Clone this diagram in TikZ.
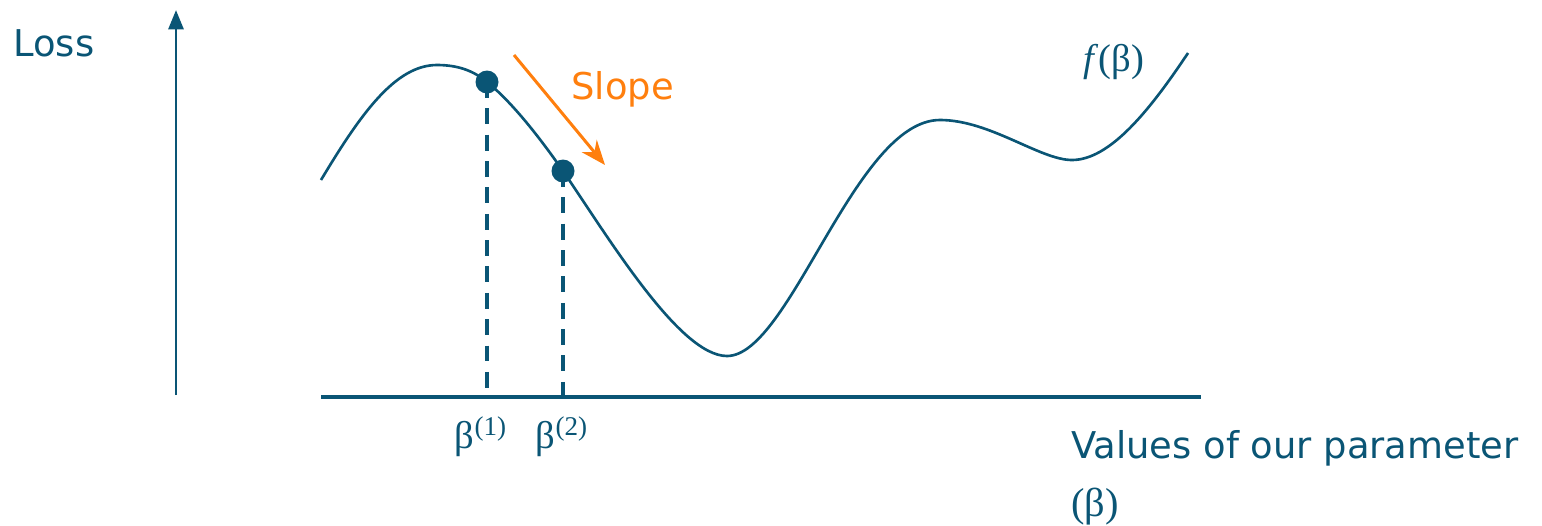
\documentclass[tikz,border=0pt]{standalone}
\usepackage{fontspec}
\setmainfont{DejaVu Sans}
\newfontfamily\greekfont{Liberation Serif}
\usetikzlibrary{arrows.meta}
\definecolor{lossblue}{HTML}{0A5575}
\definecolor{slopeorange}{HTML}{FF7F0E}

\begin{document}
\begin{tikzpicture}[x=0.02cm, y=-0.02cm, line width=1.5pt,
  dot/.style={circle, fill=lossblue, inner sep=0pt, minimum size=0.46cm},
  lbl/.style={text=lossblue, font=\fontsize{21}{33}\selectfont, inner sep=0pt},
  blbl/.style={text=lossblue, font=\greekfont\fontsize{22}{26}\selectfont, inner sep=0pt},
  drop/.style={lossblue, line width=1.8pt, dash pattern=on 9pt off 6pt}]
  \useasboundingbox (0,0) rectangle (1542,525);
  % axes
  \draw[lossblue, line width=1.7pt, -{Triangle[length=11pt, width=8.5pt]}] (176,395) -- (176,10);
  \draw[lossblue, line width=2.4pt] (321,397) coordinate (xl) -- (1201,397) coordinate (xr);
  % loss curve
  \draw[lossblue]
    (321,180) .. controls (360,115) and (395,65) .. (437,65)
    .. controls (460,65) and (475,72) .. (487,82)
    .. controls (512,102) and (540,138) .. (563,171)
    .. controls (610,240) and (680,356) .. (727,356)
    .. controls (790,356) and (855,120) .. (940,120)
    .. controls (990,120) and (1040,160) .. (1072,160)
    .. controls (1110,160) and (1150,110) .. (1188,53);
  % points on the curve
  \node[dot] (b1) at (487,82) {};
  \node[dot] (b2) at (563,171) {};
  \coordinate (f1) at (487,397);
  \coordinate (f2) at (563,397);
  \draw[drop] (b1.center) -- (f1);
  \draw[drop] (b2.center) -- (f2);
  % slope
  \coordinate (s0) at (514,55);
  \coordinate (s1) at (605,165);
  \draw[slopeorange, line width=1.7pt, -{Stealth[length=14pt, width=11pt]}] (s0) -- (s1);
  \node[lbl, text=slopeorange, anchor=west] (slope) at (570,89) {Slope};
  % labels
  \node[lbl, anchor=west] (loss) at (12,43) {Loss};
  \node[blbl] (beta1) at (481,437) {β\textsuperscript{(1)}};
  \node[blbl] (beta2) at (562,437) {β\textsuperscript{(2)}};
  \node[blbl, anchor=west] (fb) at (1082,62) {\textit{f}(β)};
  \node[lbl, anchor=north west, align=left] (xlabel) at (1070,429) {Values of our parameter\\{\greekfont\fontsize{23}{33}\selectfont(β)}};
\end{tikzpicture}
\end{document}
